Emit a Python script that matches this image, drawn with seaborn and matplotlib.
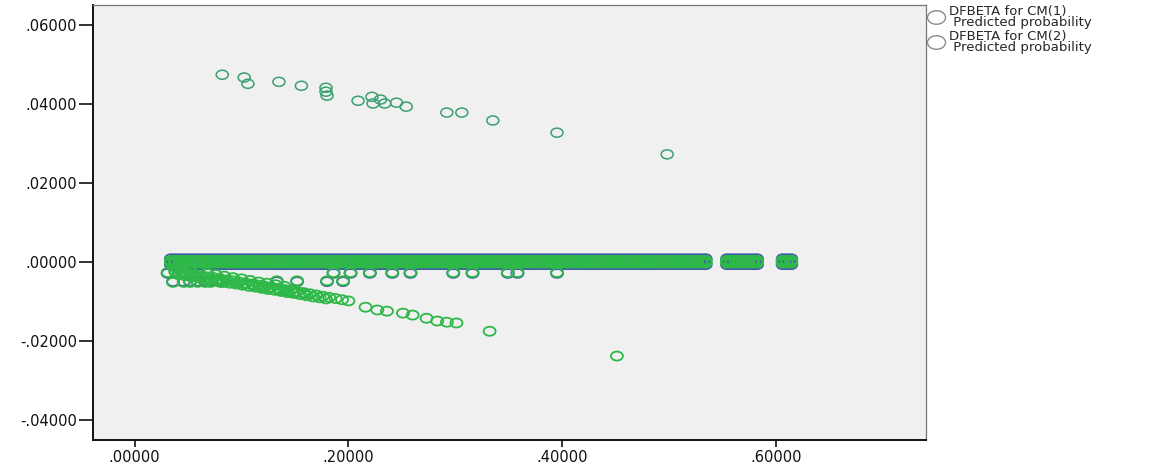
import numpy as np
import pandas as pd
import matplotlib
matplotlib.use('Agg')
import matplotlib.pyplot as plt
from matplotlib.path import Path
from matplotlib.transforms import Affine2D
from matplotlib.lines import Line2D
from matplotlib.ticker import FuncFormatter
import seaborn as sns

# Valores (x = probabilidade prevista, y = DFBETA)
series_names = ['DFBETA for CM(1)\n Predicted probability',
                'DFBETA for CM(2)\n Predicted probability']

# faixa densa perto de zero
band_x = [0.034, 0.038, 0.042, 0.046, 0.050, 0.054, 0.058, 0.062, 0.066, 0.070,
          0.074, 0.078, 0.082, 0.086, 0.090, 0.094, 0.098, 0.102, 0.106, 0.110,
          0.114, 0.118, 0.122, 0.126, 0.130, 0.134, 0.138, 0.142, 0.146, 0.150,
          0.154, 0.158, 0.162, 0.166, 0.170, 0.174, 0.178, 0.182, 0.186, 0.190,
          0.194, 0.198, 0.202, 0.206, 0.210, 0.214, 0.218, 0.222, 0.226, 0.230,
          0.234, 0.238, 0.242, 0.246, 0.250, 0.254, 0.258, 0.262, 0.266, 0.270,
          0.274, 0.278, 0.282, 0.286, 0.290, 0.294, 0.298, 0.302, 0.306, 0.310,
          0.314, 0.318, 0.322, 0.326, 0.330, 0.334, 0.338, 0.342, 0.346, 0.350,
          0.354, 0.358, 0.362, 0.366, 0.370, 0.374, 0.378, 0.382, 0.386, 0.390,
          0.394, 0.398, 0.402, 0.406, 0.410, 0.414, 0.418, 0.422, 0.426, 0.430,
          0.434, 0.438, 0.442, 0.446, 0.450, 0.454, 0.458, 0.462, 0.466, 0.470,
          0.474, 0.478, 0.482, 0.486, 0.490, 0.494, 0.498, 0.502, 0.506, 0.510,
          0.514, 0.518, 0.522, 0.526, 0.530, 0.534,
          0.554, 0.558, 0.562, 0.566, 0.570, 0.574, 0.578, 0.582,
          0.606, 0.610, 0.614]
band_y_cm1 = [0.0008, -0.0007]
band_y_cm2 = [0.0004, 0.0, -0.0003]

# linha superior (CM2)
upper_x = [0.082, 0.1025, 0.106, 0.135, 0.156, 0.179, 0.179, 0.180, 0.209, 0.222,
           0.223, 0.230, 0.234, 0.245, 0.254, 0.292, 0.306, 0.335, 0.395, 0.498]
upper_y = [0.0475, 0.0468, 0.0452, 0.0457, 0.0447, 0.0442, 0.0432, 0.0422, 0.0409, 0.0419,
           0.0402, 0.0412, 0.0402, 0.0404, 0.0394, 0.0379, 0.0379, 0.0359, 0.0328, 0.0273]

# linha inferior inclinada (CM2)
slope_x = [0.038, 0.044, 0.050, 0.056, 0.062, 0.068, 0.074, 0.080, 0.086, 0.092,
           0.098, 0.104, 0.110, 0.116, 0.122, 0.128, 0.134, 0.140, 0.146, 0.152,
           0.158, 0.164, 0.170, 0.176, 0.182, 0.188, 0.194, 0.200,
           0.216, 0.227, 0.236, 0.251, 0.260, 0.273, 0.283, 0.292, 0.301, 0.332, 0.451]
slope_y = [-0.0024, -0.0027, -0.0030, -0.0032, -0.0035, -0.0038, -0.0040, -0.0043, -0.0046, -0.0048,
           -0.0051, -0.0054, -0.0056, -0.0059, -0.0062, -0.0064, -0.0067, -0.0070, -0.0072, -0.0075,
           -0.0078, -0.0081, -0.0084, -0.0087, -0.0090, -0.0093, -0.0096, -0.0099,
           -0.0115, -0.0122, -0.0125, -0.0130, -0.0135, -0.0143, -0.0150, -0.0153, -0.0155, -0.0176, -0.0239]
slope2_x = [0.041, 0.047, 0.053, 0.059, 0.065, 0.071, 0.077, 0.083, 0.089, 0.095,
            0.101, 0.107, 0.113, 0.119, 0.125, 0.131, 0.137, 0.143, 0.149, 0.155,
            0.161, 0.167, 0.173, 0.179]
slope2_y = [-0.0032, -0.0035, -0.0038, -0.0040, -0.0043, -0.0046, -0.0048, -0.0051, -0.0054, -0.0056,
            -0.0059, -0.0062, -0.0064, -0.0067, -0.0070, -0.0072, -0.0075, -0.0078, -0.0080, -0.0083,
            -0.0086, -0.0089, -0.0091, -0.0094]
slope3_x = [0.044, 0.052, 0.060, 0.068, 0.076, 0.084, 0.092, 0.100, 0.108, 0.116, 0.124, 0.132, 0.140]
slope3_y = [-0.0017, -0.0021, -0.0025, -0.0029, -0.0032, -0.0036, -0.0040, -0.0043, -0.0047, -0.0051,
            -0.0054, -0.0058, -0.0062]
slope4_x = [0.039, 0.047, 0.055, 0.063, 0.071, 0.079, 0.087, 0.095, 0.103, 0.111,
            0.119, 0.127, 0.135, 0.143, 0.151, 0.159]
slope4_y = [-0.0027, -0.0031, -0.0035, -0.0038, -0.0042, -0.0045, -0.0049, -0.0053, -0.0056, -0.0060,
            -0.0063, -0.0067, -0.0071, -0.0074, -0.0078, -0.0081]

# fileiras logo abaixo da faixa
row_a_x = [0.031, 0.045, 0.186, 0.202, 0.220, 0.241, 0.258, 0.298, 0.316, 0.349, 0.358, 0.395]
row_b_x = [0.133, 0.152, 0.180, 0.195]
cluster_x = [0.036, 0.046, 0.052, 0.059, 0.066, 0.071, 0.080, 0.083]
row_a_y = [-0.0027, -0.0029]   # CM2, CM1
row_b_y = [-0.0048, -0.0050]
cluster_y = [-0.0052, -0.0050]


def rows(xs, ys, name):
    return pd.DataFrame({'prob': xs, 'dfbeta': ys, 'serie': name})


parts = []
for y in band_y_cm1:
    parts.append(rows(band_x, y, series_names[0]))
parts.append(rows(row_a_x, row_a_y[1], series_names[0]))
parts.append(rows(row_b_x, row_b_y[1], series_names[0]))
parts.append(rows(cluster_x, cluster_y[1], series_names[0]))
for y in band_y_cm2:
    parts.append(rows(band_x, y, series_names[1]))
parts.append(rows(row_a_x, row_a_y[0], series_names[1]))
parts.append(rows(row_b_x, row_b_y[0], series_names[1]))
parts.append(rows(cluster_x, cluster_y[0], series_names[1]))
parts.append(rows(slope_x, slope_y, series_names[1]))
parts.append(rows(slope2_x, slope2_y, series_names[1]))
parts.append(rows(slope3_x, slope3_y, series_names[1]))
parts.append(rows(slope4_x, slope4_y, series_names[1]))
df = pd.concat(parts, ignore_index=True)
df_upper = rows(upper_x, upper_y, series_names[1])

sns.set_style('white')
plt.rcParams['font.family'] = ['DejaVu Sans']

ellipse = Path.unit_circle().transformed(Affine2D().scale(1.0, 0.75))
palette = {series_names[0]: '#3E58AC', series_names[1]: '#2EB848'}

fig = plt.figure(figsize=(11.59, 4.67), dpi=100)
ax = fig.add_axes([92.5 / 1159, 1 - 440 / 467, (926 - 92.5) / 1159, (440 - 5) / 467])
ax.set_facecolor('#F0F0F0')

sns.scatterplot(data=df, x='prob', y='dfbeta', hue='serie', palette=palette,
                marker=ellipse, s=75, linewidth=1.3, legend=False, ax=ax)
# pontos isolados aparecem num verde mais apagado
sns.scatterplot(data=df_upper, x='prob', y='dfbeta', color='#3AA070',
                marker=ellipse, s=75, linewidth=1.1, legend=False, ax=ax)
for coll in ax.collections:
    coll.set_edgecolors(coll.get_facecolors())
    coll.set_facecolors('none')

ax.set_xlim(-0.0393, 0.740)
ax.set_ylim(-0.0452, 0.0652)
ax.set_xticks([0.0, 0.2, 0.4, 0.6])
ax.set_yticks([-0.04, -0.02, 0.0, 0.02, 0.04, 0.06])


def spss_fmt(v, pos):
    s = '%.5f' % v
    if abs(v) < 1e-12:
        return '.00000'
    return s.replace('0.', '.', 1)


ax.xaxis.set_major_formatter(FuncFormatter(spss_fmt))
ax.yaxis.set_major_formatter(FuncFormatter(spss_fmt))
ax.set_xlabel('')
ax.set_ylabel('')
ax.tick_params(axis='y', length=10, width=1.2, pad=1, labelsize=10.5, colors='#111111', left=True)
ax.tick_params(axis='x', length=5, width=1.2, pad=2, labelsize=10.5, colors='#111111', bottom=True)
for side in ['left', 'bottom']:
    ax.spines[side].set_color('#111111')
    ax.spines[side].set_linewidth(1.4)
for side in ['top', 'right']:
    ax.spines[side].set_color('#777777')
    ax.spines[side].set_linewidth(0.9)

handles = [Line2D([], [], ls='', marker=ellipse, ms=13, mfc='none', mec='#8a8a8a', mew=1.0)
           for _ in series_names]
leg = fig.legend(handles, series_names, loc='upper left', bbox_to_anchor=(929 / 1159, 1 - 5 / 467),
                 frameon=False, fontsize=9.5, handlelength=1.0, handletextpad=0.5,
                 borderpad=0, borderaxespad=0, labelspacing=0.05)
for t in leg.get_texts():
    t.set_linespacing(0.8)

fig.savefig('out.png', dpi=100, facecolor='white')
